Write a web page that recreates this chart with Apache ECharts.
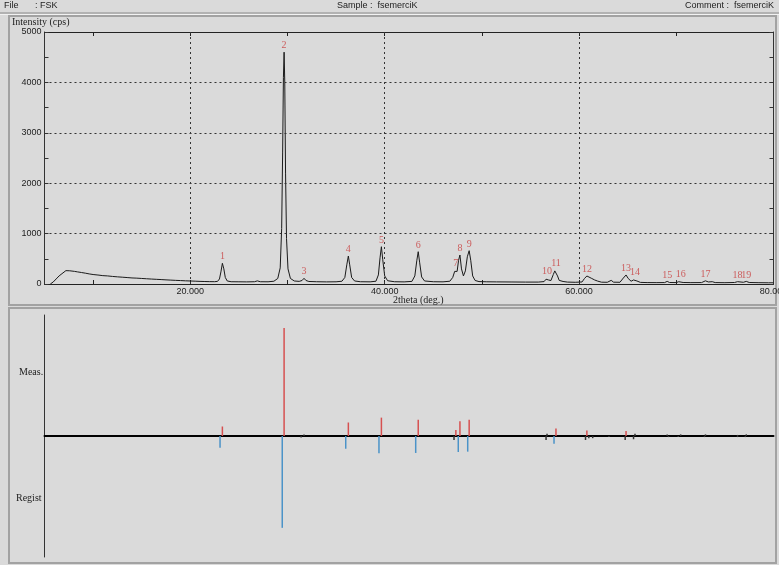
<!DOCTYPE html>
<html><head><meta charset="utf-8">
<script src="https://cdn.jsdelivr.net/npm/echarts@6/dist/echarts.min.js"></script>
<style>html,body{margin:0;padding:0;background:#dadada}#c{width:779px;height:565px}</style>
</head><body><div id="c"></div>
<script>
// XRD profile (2theta in degrees, intensity in cps)
const twoTheta = [5.6,5.9,6.2,6.5,6.8,7.0,7.2,7.4,7.6,7.8,8.1,8.4,8.8,9.2,9.6,10.0,10.5,11.0,11.5,12.0,12.5,13.0,13.5,14.0,14.5,15.0,15.5,16.0,16.5,17.0,17.5,18.0,18.5,19.0,19.5,20.0,20.5,21.0,21.5,22.0,22.5,22.8,23.0,23.15,23.3,23.45,23.6,23.8,24.2,25.0,25.8,26.6,26.9,27.2,28.0,28.6,29.0,29.25,29.4,29.5,29.58,29.65,29.72,29.8,29.9,30.05,30.3,30.7,31.2,31.5,31.7,31.9,32.2,33.0,34.0,35.0,35.6,35.9,36.1,36.26,36.4,36.6,36.9,37.5,38.5,39.1,39.35,39.52,39.66,39.8,40.0,40.3,41.0,42.0,42.8,43.1,43.3,43.45,43.6,43.8,44.1,45.0,46.0,46.7,47.0,47.2,47.32,47.45,47.6,47.74,47.9,48.1,48.3,48.5,48.69,48.85,49.05,49.3,49.7,50.5,51.5,53.0,54.5,55.8,56.4,56.6,56.7,56.85,57.1,57.35,57.5,57.62,57.78,57.95,58.15,58.35,58.8,59.6,60.3,60.55,60.8,61.0,61.3,61.6,61.9,62.3,62.9,63.1,63.3,63.55,64.2,64.55,64.83,65.05,65.35,65.6,65.75,65.95,66.3,67.0,68.0,68.8,69.06,69.3,70.0,70.25,70.45,70.7,71.5,72.6,73.0,73.3,73.7,74.0,75.0,76.0,76.3,76.5,76.9,77.2,77.5,78.5,79.5,80.0];
const intensity = [0,40,100,160,205,240,265,278,262,270,250,240,228,215,200,188,178,166,160,150,142,135,128,120,116,110,104,98,93,88,82,77,72,68,63,60,56,52,49,47,46,52,100,240,411,300,130,60,45,44,42,45,62,45,44,55,110,320,1100,2600,4100,4600,4000,2200,900,300,110,60,52,70,113,70,50,45,42,44,55,130,380,555,380,130,60,45,43,55,180,520,740,480,160,65,45,42,52,160,460,641,420,140,60,45,43,55,130,250,278,250,470,575,300,160,260,540,661,470,160,70,48,44,42,40,38,38,48,95,113,80,68,190,260,278,160,72,80,50,38,34,40,108,159,130,110,80,58,36,34,66,72,36,34,118,179,110,55,80,93,60,32,28,27,28,52,30,28,45,58,30,27,28,63,40,46,28,26,30,46,30,34,52,30,26,24,24];
// Numbered peaks (measured)
const peakNo  = ['1','2','3','4','5','6','7','8','9','10','11','12','13','14','15','16','17','18','19'];
const peakPos = [23.3,29.65,31.7,36.26,39.66,43.45,47.32,47.74,48.69,56.7,57.62,60.8,64.83,65.75,69.06,70.45,73.0,76.3,77.2];
const peakInt = [411,4600,113,555,740,641,278,575,661,113,278,159,179,93,52,58,63,46,52];
// Stick pattern: measured (up) relative intensity
const measRel = [8.8,100,1.5,12.5,17,15,5.5,13.6,15,2,7,5,4.6,2,1.5,1.5,1.5,1,1.5];
// Registered reference pattern (down)
const regPos = [23.06,29.46,31.4,35.99,39.41,43.19,47.13,47.57,48.54,56.6,57.42,60.66,61.0,61.4,63.07,64.74,65.6,69.2,70.2,72.9,76.3,77.1];
const regRel = [-10.8,-85,-1.5,-11.8,-16,-15.7,-3.7,-14.8,-14.5,-3.7,-7.1,-3.7,-2,-2,-1,-3.7,-3,-1,-1,-1,-1,-1];
const xLabels = [20,40,60,80];
const xTicks = [10,20,30,40,50,60,70];

const RED = '#d65050', BLUE = '#4b93c8', INK = '#1a1a1a';
const SANS = 'Liberation Sans, DejaVu Sans, sans-serif';
const SERIF = 'Liberation Serif, DejaVu Serif, serif';

const chart = echarts.init(document.getElementById('c'), null, {renderer:'canvas'});
const profile = twoTheta.map((t,i)=>[t, intensity[i]]);

const xTop = (pos, showLabel) => ({
  type:'value', gridIndex:0, position:pos, min:5, max:80,
  axisLine:{show:true, onZero:false, lineStyle:{color:'#222', width:1}},
  axisTick:{show:true, inside:true, length:4, customValues:xTicks, lineStyle:{color:'#222'}},
  axisLabel:{show:showLabel, customValues:xLabels, formatter:v=>v.toFixed(3), color:'#222', fontSize:9, fontFamily:SANS, margin:3},
  splitLine:{show:false}
});
const yBase = (pos, showLabel) => ({
  type:'value', gridIndex:0, position:pos, min:0, max:5000, interval:500,
  axisLine:{show:true, onZero:false, lineStyle:{color:'#333', width:1}},
  axisTick:{show:true, inside:true, length:4, lineStyle:{color:'#333'}},
  axisLabel:{show:showLabel, formatter:v=> (v%1000===0? String(v):''), color:'#222', fontSize:9, fontFamily:SANS, margin:3},
  splitLine:{show:false}
});

chart.setOption({
  animation:false,
  backgroundColor:'#dadada',
  grid:[
    {left:44.5, right:5.5, top:32, bottom:281, containLabel:false, outerBoundsMode:'none'},
    {left:44.5, right:5.5, top:315, height:242, containLabel:false, outerBoundsMode:'none'}
  ],
  xAxis:[
    xTop('bottom',true),
    xTop('top',false),
    {type:'value', gridIndex:1, min:5, max:80,
     axisLine:{show:true, onZero:true, lineStyle:{color:'#000', width:2}},
     axisTick:{show:false}, axisLabel:{show:false}, splitLine:{show:false}}
  ],
  yAxis:[
    yBase('left',true),
    yBase('right',false),
    {type:'value', gridIndex:1, min:-112, max:112,
     axisLine:{show:true, onZero:false, lineStyle:{color:'#333', width:1}},
     axisTick:{show:false}, axisLabel:{show:false}, splitLine:{show:false}}
  ],
  graphic:[
    {type:'line', shape:{x1:0,y1:13,x2:779,y2:13}, style:{stroke:'#8a8a8a', lineWidth:1}},
    {type:'line', shape:{x1:0,y1:14.5,x2:779,y2:14.5}, style:{stroke:'#f2f2f2', lineWidth:1}},
    {type:'text', left:4, top:1, style:{text:'File', font:'9px '+SANS, fill:'#222'}},
    {type:'text', left:35, top:1, style:{text:': FSK', font:'9px '+SANS, fill:'#222'}},
    {type:'text', left:337, top:1, style:{text:'Sample :  fsemerciK', font:'9px '+SANS, fill:'#222'}},
    {type:'text', left:685, top:1, style:{text:'Comment :  fsemerciK', font:'9px '+SANS, fill:'#222'}},
    {type:'rect', shape:{x:9,y:16,width:767,height:289}, style:{fill:'none', stroke:'#a2a2a2', lineWidth:2}},
    {type:'rect', shape:{x:9,y:308,width:767,height:255}, style:{fill:'none', stroke:'#a2a2a2', lineWidth:2}},
    {type:'text', left:12, top:17, style:{text:'Intensity (cps)', font:'10px '+SERIF, fill:'#222'}},
    {type:'text', left:393, top:295, style:{text:'2theta (deg.)', font:'10px '+SERIF, fill:'#222'}},
    {type:'text', left:19, top:367, style:{text:'Meas.', font:'10px '+SERIF, fill:'#222'}},
    {type:'text', left:16, top:493, style:{text:'Regist', font:'10px '+SERIF, fill:'#222'}}
  ],
  series:[
    {type:'line', xAxisIndex:0, yAxisIndex:0, data:profile, showSymbol:false, symbol:'none',
     lineStyle:{color:INK, width:1}, z:3,
     markLine:{silent:true, symbol:'none', label:{show:false},
       lineStyle:{color:'#333', type:[2,3], width:1},
       data:[{xAxis:20},{xAxis:40},{xAxis:60},{yAxis:1000},{yAxis:2000},{yAxis:3000},{yAxis:4000}]}},
    {type:'scatter', xAxisIndex:0, yAxisIndex:0, symbolSize:1, itemStyle:{color:'rgba(0,0,0,0)'},
     data:peakPos.map((x,i)=>({name:peakNo[i], value:[x, peakInt[i]]})),
     label:{show:true, position:'top', distance:1, formatter:'{b}', color:'#c83c3c', fontSize:10, fontFamily:SERIF}, z:4},
    {type:'bar', xAxisIndex:2, yAxisIndex:2, barWidth:1.5, barGap:'-100%',
     data:peakPos.map((x,i)=>({value:[x, measRel[i]], itemStyle:{color: measRel[i]>4 ? RED : '#333'}}))},
    {type:'bar', xAxisIndex:2, yAxisIndex:2, barWidth:1.5, barGap:'-100%',
     data:regPos.map((x,i)=>({value:[x, regRel[i]], itemStyle:{color: regRel[i]<-4 ? BLUE : '#333'}}))}
  ]
});
</script></body></html>
